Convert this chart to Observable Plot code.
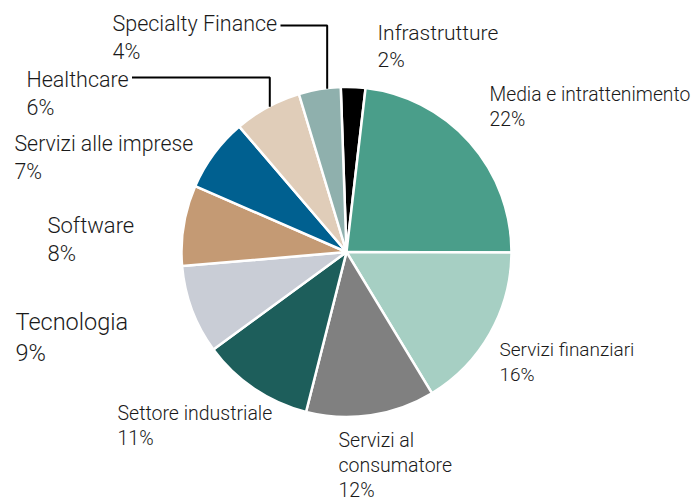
<!DOCTYPE html>
<html>
<head>
<meta charset="utf-8">
<script src="https://cdn.jsdelivr.net/npm/d3@7"></script>
<script src="https://cdn.jsdelivr.net/npm/@observablehq/plot@0.6"></script>
<style>
  html, body { margin: 0; padding: 0; background: #fff; }
</style>
</head>
<body>
<div id="chart"></div>
<script>
// ---- data ----
const sectors = ["Infrastrutture", "Media e intrattenimento", "Servizi finanziari", "Servizi al consumatore",
  "Settore industriale", "Tecnologia", "Software", "Servizi alle imprese", "Healthcare", "Specialty Finance"];
// estimated slice shares (%) measured from the slice angles
const shares = [2.4, 23.2, 16.3, 12.6, 11.0, 8.7, 7.9, 7.2, 6.6, 4.1];
// percentages printed in the labels
const printed = ["2%", "22%", "16%", "12%", "11%", "9%", "8%", "7%", "6%", "4%"];
const labelNames = ["Infrastrutture", "Media e intrattenimento", "Servizi finanziari", "Servizi al\nconsumatore",
  "Settore industriale", "Tecnologia", "Software", "Servizi alle imprese", "Healthcare", "Specialty Finance"];
const colors = ["#000000", "#4a9e8a", "#a6cfc3", "#808080", "#1d5e5b", "#c9cdd6", "#c49a74", "#006090", "#e0cdb9", "#8fb0ad"];

// ---- layout (pixel-like units through identity-like scales) ----
const PIE = {cx: 346.5, cy: 252, r: 165, startDeg: -2};
const labelLayout = [
  {x: 377, y: 20, size: 21},
  {x: 489, y: 83, size: 19.3},
  {x: 499, y: 338, size: 19},
  {x: 338, y: 428, size: 19.5},
  {x: 117, y: 401, size: 19.5},
  {x: 15, y: 308, size: 23.5},
  {x: 47, y: 212, size: 22},
  {x: 14, y: 131, size: 21.3},
  {x: 26, y: 67, size: 21.5},
  {x: 112, y: 11, size: 21.5}
];
// leader lines: from label end (x0, y) horizontally to the point on the rim at angle deg, then down
const leaders = [
  {sector: "Specialty Finance", x0: 280, y: 25, deg: 353.1},
  {sector: "Healthcare", x0: 131.5, y: 77, deg: 332.1}
];

const slices = sectors.map((s, i) => ({sector: s, share: shares[i], color: colors[i]}));
const labels = sectors.map((s, i) => ({
  text: labelNames[i] + "\n" + printed[i],
  x: labelLayout[i].x, y: labelLayout[i].y, size: labelLayout[i].size
}));
const leaderPts = leaders.flatMap(l => {
  const a = l.deg * Math.PI / 180;
  const ex = PIE.cx + PIE.r * Math.sin(a);
  const ey = PIE.cy - PIE.r * Math.cos(a);
  return [
    {sector: l.sector, x: l.x0, y: l.y},
    {sector: l.sector, x: ex, y: l.y},
    {sector: l.sector, x: ex, y: ey}
  ];
});

function pieMark(data) {
  return (index, scales) => {
    const cx = scales.x(PIE.cx), cy = scales.y(PIE.cy);
    const r = scales.x(PIE.cx + PIE.r) - cx;
    const start = PIE.startDeg * Math.PI / 180;
    const arcs = d3.pie().value(d => d.share).sort(null)
      .startAngle(start).endAngle(start + 2 * Math.PI)(data);
    const arc = d3.arc().innerRadius(0).outerRadius(r);
    const g = d3.create("svg:g").attr("transform", `translate(${cx},${cy})`);
    g.selectAll("path").data(arcs).join("path")
      .attr("d", arc)
      .attr("fill", d => d.data.color)
      .attr("stroke", "#fff")
      .attr("stroke-width", 2.5)
      .attr("stroke-linejoin", "round");
    return g.node();
  };
}

const chart = Plot.plot({
  width: 691,
  height: 500,
  margin: 0,
  x: {type: "linear", domain: [0, 691], range: [0, 691], axis: null},
  y: {type: "linear", domain: [0, 500], range: [0, 500], axis: null},
  style: {background: "#fff", fontFamily: "Roboto, 'Open Sans', sans-serif"},
  marks: [
    pieMark(slices),
    Plot.line(leaderPts, {x: "x", y: "y", z: "sector", stroke: "#000", strokeWidth: 2, strokeLinejoin: "miter", strokeLinecap: "butt"}),
    Plot.text(labels, {
      x: "x", y: "y", text: "text", fontSize: "size",
      textAnchor: "start", lineAnchor: "top", lineHeight: 1.3,
      fill: "#1a1a1a", fontWeight: 300
    })
  ]
});
document.getElementById("chart").appendChild(chart);
</script>
</body>
</html>
